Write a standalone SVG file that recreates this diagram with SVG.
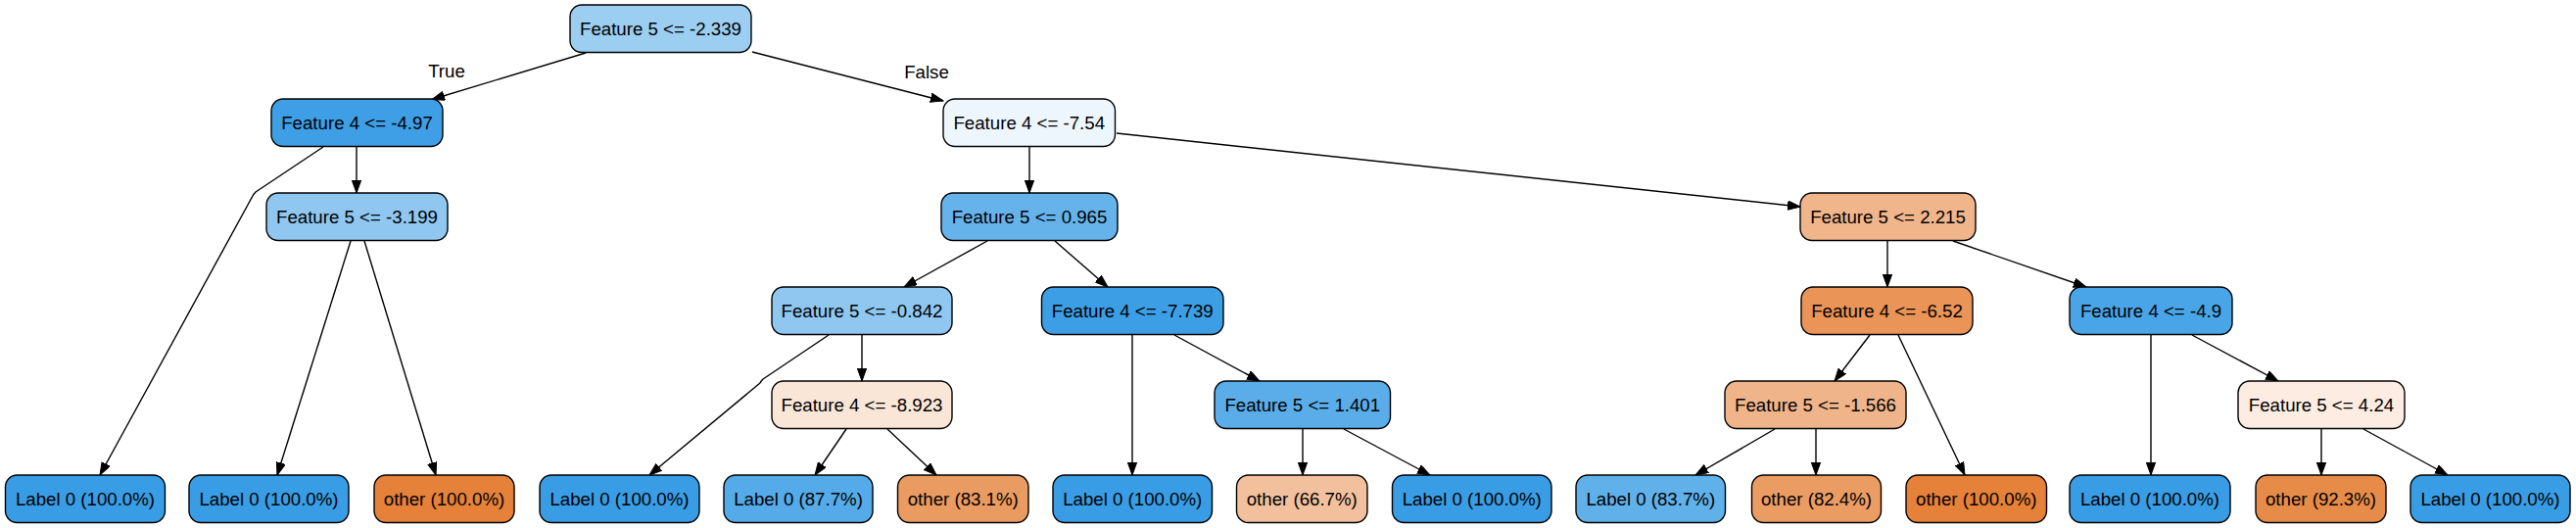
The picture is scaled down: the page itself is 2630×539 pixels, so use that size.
<svg xmlns="http://www.w3.org/2000/svg" width="2630" height="539" viewBox="0 0 2630 539">
<style>
.n rect{stroke:#000;stroke-width:1.4}
.n text,.lbl{font-family:"Liberation Sans",Arial,sans-serif;font-size:18.67px;fill:#000;text-anchor:middle}
.e path{fill:none;stroke:#000;stroke-width:1.4;stroke-linejoin:round;marker-end:url(#arr)}
</style>
<defs>
<marker id="arr" markerUnits="userSpaceOnUse" markerWidth="14" markerHeight="10" refX="13" refY="4.7" orient="auto">
<path d="M0,0 L13,4.7 L0,9.4 z" fill="#000" stroke="#000" stroke-width="1"/>
</marker>
</defs>
<rect width="2630" height="539" fill="#fff"/>
<g id="edges" class="e">
<path d="M598,54 L441,101.5"/>
<path d="M768,53 L963,103"/>
<path d="M330,150 L261,196 Q259,198 258,200 L102,485"/>
<path d="M364,150 L364,197"/>
<path d="M358,246 L283,485"/>
<path d="M372,246 L445,485"/>
<path d="M1051,150 L1051,197"/>
<path d="M1140,136 L1838,211"/>
<path d="M1008,246 L923,293"/>
<path d="M1077,246 L1131,293"/>
<path d="M846,342 L779,387 Q777,389 776,391 L663,485"/>
<path d="M880,342 L880,389"/>
<path d="M864,438 L832,485"/>
<path d="M906,438 L956,485"/>
<path d="M1156,342 L1156,485"/>
<path d="M1199,342 L1286,389"/>
<path d="M1330,438 L1330,485"/>
<path d="M1372,438 L1460,485"/>
<path d="M1927,246 L1927,293"/>
<path d="M1994,246 L2130,293"/>
<path d="M1909,342 L1873,389"/>
<path d="M1938,342 L2006,485"/>
<path d="M2196,342 L2196,485"/>
<path d="M2238,342 L2326,389"/>
<path d="M1812,438 L1731,485"/>
<path d="M1854,438 L1854,485"/>
<path d="M2370,438 L2370,485"/>
<path d="M2413,438 L2499,485"/>
</g>
<text class="lbl" x="456" y="79">True</text>
<text class="lbl" x="946" y="80">False</text>
<g id="root" class="n"><rect x="582" y="5" width="185" height="48.5" rx="12" fill="#9ccef2"/><text x="674.5" y="35.5">Feature 5 &lt;= -2.339</text></g>
<g id="nA" class="n"><rect x="277" y="101" width="175" height="48.5" rx="12" fill="#3e9fe6"/><text x="364.5" y="131.5">Feature 4 &lt;= -4.97</text></g>
<g id="nB" class="n"><rect x="963" y="101" width="175.5" height="48.5" rx="12" fill="#eef6fd"/><text x="1050.75" y="131.5">Feature 4 &lt;= -7.54</text></g>
<g id="nC" class="n"><rect x="272" y="197" width="185" height="48.5" rx="12" fill="#8fc7f0"/><text x="364.5" y="227.5">Feature 5 &lt;= -3.199</text></g>
<g id="nD" class="n"><rect x="961" y="197" width="180" height="48.5" rx="12" fill="#66b3eb"/><text x="1051" y="227.5">Feature 5 &lt;= 0.965</text></g>
<g id="nE" class="n"><rect x="1838" y="197" width="179" height="48.5" rx="12" fill="#f0b58b"/><text x="1927.5" y="227.5">Feature 5 &lt;= 2.215</text></g>
<g id="nF" class="n"><rect x="788" y="293" width="184" height="48.5" rx="12" fill="#8fc7f0"/><text x="880" y="323.5">Feature 5 &lt;= -0.842</text></g>
<g id="nG" class="n"><rect x="1063.5" y="293" width="185.5" height="48.5" rx="12" fill="#3c9ee5"/><text x="1156.25" y="323.5">Feature 4 &lt;= -7.739</text></g>
<g id="nH" class="n"><rect x="1839" y="293" width="175" height="48.5" rx="12" fill="#ea9457"/><text x="1926.5" y="323.5">Feature 4 &lt;= -6.52</text></g>
<g id="nI" class="n"><rect x="2113" y="293" width="166" height="48.5" rx="12" fill="#49a5e7"/><text x="2196" y="323.5">Feature 4 &lt;= -4.9</text></g>
<g id="nJ" class="n"><rect x="788" y="389" width="184" height="48.5" rx="12" fill="#fae6d7"/><text x="880" y="419.5">Feature 4 &lt;= -8.923</text></g>
<g id="nK" class="n"><rect x="1240" y="389" width="179.5" height="48.5" rx="12" fill="#5aade9"/><text x="1329.75" y="419.5">Feature 5 &lt;= 1.401</text></g>
<g id="nL" class="n"><rect x="1761" y="389" width="185" height="48.5" rx="12" fill="#f0b48a"/><text x="1853.5" y="419.5">Feature 5 &lt;= -1.566</text></g>
<g id="nM" class="n"><rect x="2285" y="389" width="170" height="48.5" rx="12" fill="#fcece1"/><text x="2370" y="419.5">Feature 5 &lt;= 4.24</text></g>
<g id="leaf1" class="n"><rect x="5.5" y="485" width="163" height="48.5" rx="12" fill="#399de5"/><text x="87" y="515.5">Label 0 (100.0%)</text></g>
<g id="leaf2" class="n"><rect x="193" y="485" width="163" height="48.5" rx="12" fill="#399de5"/><text x="274.5" y="515.5">Label 0 (100.0%)</text></g>
<g id="leaf3" class="n"><rect x="382" y="485" width="143" height="48.5" rx="12" fill="#e58139"/><text x="453.5" y="515.5">other (100.0%)</text></g>
<g id="leaf4" class="n"><rect x="551" y="485" width="163" height="48.5" rx="12" fill="#399de5"/><text x="632.5" y="515.5">Label 0 (100.0%)</text></g>
<g id="leaf5" class="n"><rect x="739" y="485" width="152" height="48.5" rx="12" fill="#55abe9"/><text x="815" y="515.5">Label 0 (87.7%)</text></g>
<g id="leaf6" class="n"><rect x="916.5" y="485" width="133.5" height="48.5" rx="12" fill="#ea9b61"/><text x="983.25" y="515.5">other (83.1%)</text></g>
<g id="leaf7" class="n"><rect x="1075" y="485" width="162.5" height="48.5" rx="12" fill="#399de5"/><text x="1156.25" y="515.5">Label 0 (100.0%)</text></g>
<g id="leaf8" class="n"><rect x="1262.5" y="485" width="133.5" height="48.5" rx="12" fill="#f2c09c"/><text x="1329.25" y="515.5">other (66.7%)</text></g>
<g id="leaf9" class="n"><rect x="1421.5" y="485" width="162.5" height="48.5" rx="12" fill="#399de5"/><text x="1502.75" y="515.5">Label 0 (100.0%)</text></g>
<g id="leaf10" class="n"><rect x="1609" y="485" width="152.5" height="48.5" rx="12" fill="#60b0ea"/><text x="1685.25" y="515.5">Label 0 (83.7%)</text></g>
<g id="leaf11" class="n"><rect x="1788.5" y="485" width="132" height="48.5" rx="12" fill="#eb9c63"/><text x="1854.5" y="515.5">other (82.4%)</text></g>
<g id="leaf12" class="n"><rect x="1946" y="485" width="143.5" height="48.5" rx="12" fill="#e58139"/><text x="2017.75" y="515.5">other (100.0%)</text></g>
<g id="leaf13" class="n"><rect x="2113" y="485" width="164" height="48.5" rx="12" fill="#399de5"/><text x="2195" y="515.5">Label 0 (100.0%)</text></g>
<g id="leaf14" class="n"><rect x="2303" y="485" width="133" height="48.5" rx="12" fill="#e78b49"/><text x="2369.5" y="515.5">other (92.3%)</text></g>
<g id="leaf15" class="n"><rect x="2461" y="485" width="163" height="48.5" rx="12" fill="#399de5"/><text x="2542.5" y="515.5">Label 0 (100.0%)</text></g>
</svg>
